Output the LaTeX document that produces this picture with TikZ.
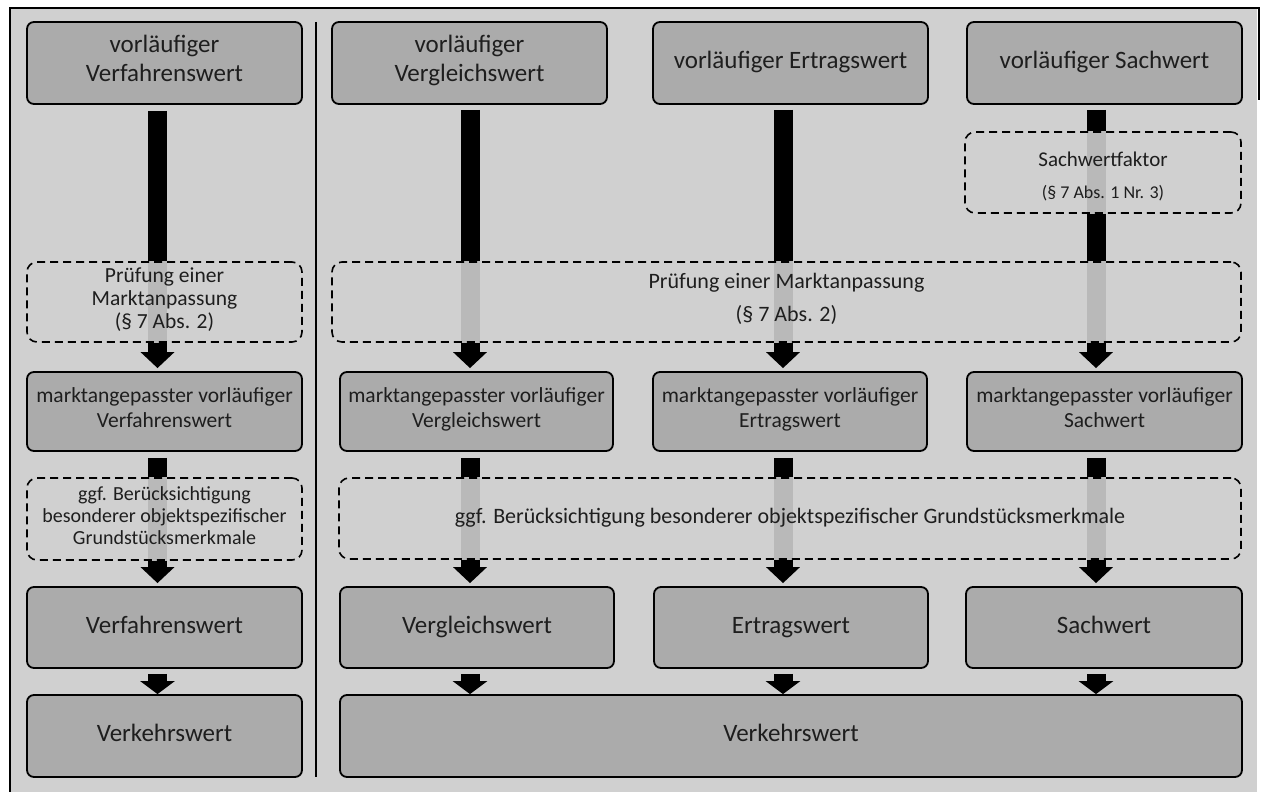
\documentclass[tikz,border=0pt]{standalone}
\usepackage{fontspec}
\setmainfont{Carlito}
\usetikzlibrary{arrows.meta,calc}
\definecolor{panel}{HTML}{D0D0D0}
\definecolor{boxgray}{HTML}{ABABAB}
\definecolor{lightbar}{HTML}{B9B9B9}
\definecolor{txt}{HTML}{1E1E1E}
\pgfdeclarelayer{bg}
\pgfsetlayers{bg,main}
\begin{document}
\begin{tikzpicture}[x=1pt,y=-1pt,
  box/.style={draw=black,line width=1.8pt,fill=boxgray,rounded corners=7pt,inner sep=0pt,align=center,text=txt,
    execute at begin node=\strut, execute at end node=\strut},
  dbox/.style={draw=black,line width=1.6pt,dash pattern=on 8pt off 5pt,rounded corners=10pt,inner sep=0pt,align=center,text=txt,
    execute at begin node=\strut, execute at end node=\strut},
  big/.style={font=\fontsize{25}{29}\selectfont},
  mid/.style={font=\fontsize{21.5}{25}\selectfont},
  bar/.style={line width=19pt,black},
  lbar/.style={line width=19pt,lightbar},
  arr/.style={line width=19pt,black,-{Triangle[length=16pt,width=33pt]}},
  sarr/.style={line width=19pt,black,-{Triangle[length=13pt,width=34pt]}},
]
\useasboundingbox (0,0) rectangle (1264,792);
\begin{pgfonlayer}{bg}
  \fill[white] (0,0) rectangle (1264,792);
  \fill[panel] (10,8) rectangle (1257,792);
\end{pgfonlayer}
\draw[line width=2.5pt] (10,800) -- (10,8) -- (1259,8) -- (1259,100);
\draw[line width=2.5pt] (316,22) -- (316,777);

% bar x positions
\coordinate (c1) at (157.5,0);
\coordinate (c2) at (470,0);
\coordinate (c3) at (783,0);
\coordinate (c4) at (1096,0);

% left column
\node[box,big,minimum width=275pt,minimum height=82pt] (v1) at (164.5,63) {vorläufiger\\Verfahrenswert};
\node[dbox,font=\fontsize{21.5}{23}\selectfont,minimum width=275pt,minimum height=80pt] (p1) at (164.5,302) {Prüfung einer\\Marktanpassung\\(§ 7 Abs. 2)};
\node[box,mid,minimum width=275pt,minimum height=79pt] (m1) at (164.5,411.5) {marktangepasster vorläufiger\\Verfahrenswert};
\node[dbox,font=\fontsize{20}{22}\selectfont,minimum width=275pt,minimum height=82pt] (g1) at (164.5,519) {ggf. Berücksichtigung\\besonderer objektspezifischer\\Grundstücksmerkmale};
\node[box,big,minimum width=275pt,minimum height=81pt] (f1) at (164.5,627.5) {Verfahrenswert};
\node[box,big,minimum width=275pt,minimum height=82pt] (k1) at (164.5,736) {Verkehrswert};

% top row right
\node[box,big,minimum width=275pt,minimum height=82pt] (v2) at (469.5,63) {vorläufiger\\Vergleichswert};
\node[box,big,minimum width=275pt,minimum height=82pt] (v3) at (790.5,63) {vorläufiger Ertragswert};
\node[box,big,minimum width=275pt,minimum height=82pt] (v4) at (1104.5,63) {vorläufiger Sachwert};

\node[dbox,font=\fontsize{21}{32}\selectfont,minimum width=276pt,minimum height=81pt] (s4) at (1103,172.5) {\rule{0pt}{30pt}Sachwertfaktor\\{\fontsize{18}{32}\selectfont (§ 7 Abs. 1 Nr. 3)}};

\node[dbox,font=\fontsize{22}{33}\selectfont,minimum width=909pt,minimum height=80pt] (P) at (786.5,302) {Prüfung einer Marktanpassung\\(§ 7 Abs. 2)};

\node[box,mid,minimum width=273pt,minimum height=79pt] (m2) at (476.5,411.5) {marktangepasster vorläufiger\\Vergleichswert};
\node[box,mid,minimum width=274pt,minimum height=79pt] (m3) at (790,411.5) {marktangepasster vorläufiger\\Ertragswert};
\node[box,mid,minimum width=275pt,minimum height=79pt] (m4) at (1104.5,411.5) {marktangepasster vorläufiger\\Sachwert};

\node[dbox,font=\fontsize{22}{26}\selectfont,minimum width=902pt,minimum height=81pt] (G) at (790,518.5) {ggf. Berücksichtigung besonderer objektspezifischer Grundstücksmerkmale};

\node[box,big,minimum width=274pt,minimum height=81pt] (f2) at (477,627.5) {Vergleichswert};
\node[box,big,minimum width=274pt,minimum height=81pt] (f3) at (791,627.5) {Ertragswert};
\node[box,big,minimum width=276pt,minimum height=81pt] (f4) at (1104,627.5) {Sachwert};

\node[box,big,minimum width=902pt,minimum height=82pt] (K) at (791,736) {Verkehrswert};

\begin{pgfonlayer}{bg}
  % column 1
  \draw[bar] ($(v1.south -| c1)+(0,6)$) -- (p1.north -| c1);
  \draw[lbar] (p1.north -| c1) -- (p1.south -| c1);
  \draw[arr] (p1.south -| c1) -- ($(m1.north -| c1)+(0,-3)$);
  \draw[bar] ($(m1.south -| c1)+(0,6)$) -- (g1.north -| c1);
  \draw[lbar] (g1.north -| c1) -- (g1.south -| c1);
  \draw[arr] (g1.south -| c1) -- ($(f1.north -| c1)+(0,-3)$);
  \draw[sarr] ($(f1.south -| c1)+(0,5)$) -- (k1.north -| c1);
  % column 2
  \draw[bar] ($(v2.south -| c2)+(0,5)$) -- (P.north -| c2);
  \draw[lbar] (P.north -| c2) -- (P.south -| c2);
  \draw[arr] (P.south -| c2) -- ($(m2.north -| c2)+(0,-3)$);
  \draw[bar] ($(m2.south -| c2)+(0,6)$) -- (G.north -| c2);
  \draw[lbar] (G.north -| c2) -- (G.south -| c2);
  \draw[arr] (G.south -| c2) -- ($(f2.north -| c2)+(0,-3)$);
  \draw[sarr] ($(f2.south -| c2)+(0,5)$) -- (K.north -| c2);
  % column 3
  \draw[bar] ($(v3.south -| c3)+(0,5)$) -- (P.north -| c3);
  \draw[lbar] (P.north -| c3) -- (P.south -| c3);
  \draw[arr] (P.south -| c3) -- ($(m3.north -| c3)+(0,-3)$);
  \draw[bar] ($(m3.south -| c3)+(0,6)$) -- (G.north -| c3);
  \draw[lbar] (G.north -| c3) -- (G.south -| c3);
  \draw[arr] (G.south -| c3) -- ($(f3.north -| c3)+(0,-3)$);
  \draw[sarr] ($(f3.south -| c3)+(0,5)$) -- (K.north -| c3);
  % column 4
  \draw[bar] ($(v4.south -| c4)+(0,5)$) -- (s4.north -| c4);
  \draw[lbar] (s4.north -| c4) -- (s4.south -| c4);
  \draw[bar] (s4.south -| c4) -- (P.north -| c4);
  \draw[lbar] (P.north -| c4) -- (P.south -| c4);
  \draw[arr] (P.south -| c4) -- ($(m4.north -| c4)+(0,-3)$);
  \draw[bar] ($(m4.south -| c4)+(0,6)$) -- (G.north -| c4);
  \draw[lbar] (G.north -| c4) -- (G.south -| c4);
  \draw[arr] (G.south -| c4) -- ($(f4.north -| c4)+(0,-3)$);
  \draw[sarr] ($(f4.south -| c4)+(0,5)$) -- (K.north -| c4);
\end{pgfonlayer}
\end{tikzpicture}
\end{document}
